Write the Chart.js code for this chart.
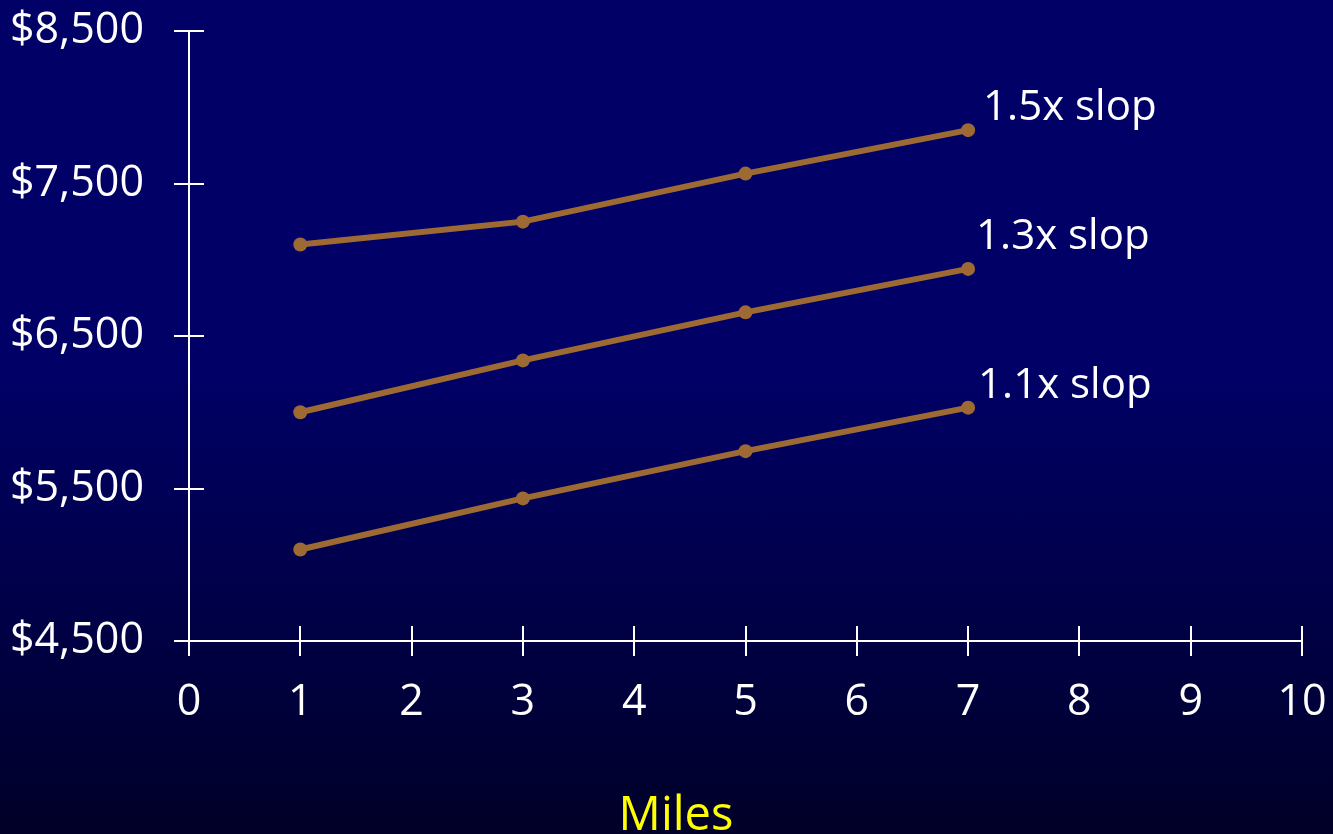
<!DOCTYPE html>
<html>
<head>
<meta charset="utf-8">
<script src="https://cdn.jsdelivr.net/npm/chart.js@4/dist/chart.umd.min.js"></script>
<style>
html, body { margin: 0; padding: 0; width: 1333px; height: 834px; overflow: hidden; }
body { background: linear-gradient(to bottom, #000066 0%, #000066 45%, #00003a 85%, #000028 100%); }
#wrap { position: relative; width: 1333px; height: 834px; }
</style>
</head>
<body>
<div id="wrap"><canvas id="c" width="1333" height="834"></canvas></div>
<script>
const seriesNames = ["1.5x slop", "1.3x slop", "1.1x slop"];
const miles = [1, 3, 5, 7];
const slope15 = [7100, 7250, 7565, 7850];
const slope13 = [6000, 6340, 6655, 6940];
const slope11 = [5100, 5435, 5745, 6030];
const yTicks = [4500, 5500, 6500, 7500, 8500];
const xMin = 0, xMax = 10;
const xTitle = "Miles";

const FONT = "'Open Sans', 'DejaVu Sans', sans-serif";
const LINE = "#9e6a34";

function pts(vals) { return miles.map((m, i) => ({ x: m, y: vals[i] })); }

const crossTicks = {
  id: 'crossTicks',
  afterDraw(chart) {
    const ctx = chart.ctx;
    const xs = chart.scales.x, ys = chart.scales.y;
    ctx.save();
    ctx.strokeStyle = '#ffffff';
    ctx.lineWidth = 2;
    const x0 = xs.getPixelForValue(xMin);
    const y0 = ys.getPixelForValue(yTicks[0]);
    const half = 15;
    ctx.beginPath();
    ys.ticks.forEach(t => {
      const y = Math.round(ys.getPixelForValue(t.value));
      ctx.moveTo(x0 - half, y); ctx.lineTo(x0 + half, y);
    });
    xs.ticks.forEach(t => {
      const x = Math.round(xs.getPixelForValue(t.value));
      ctx.moveTo(x, y0 - half); ctx.lineTo(x, y0 + half);
    });
    ctx.stroke();
    ctx.restore();
  }
};

const endLabels = {
  id: 'endLabels',
  afterDatasetsDraw(chart, args, opts) {
    const ctx = chart.ctx;
    ctx.save();
    ctx.fillStyle = '#ffffff';
    ctx.font = "42px " + FONT;
    ctx.textAlign = 'left';
    ctx.textBaseline = 'middle';
    chart.data.datasets.forEach((ds, i) => {
      const meta = chart.getDatasetMeta(i);
      const last = meta.data[meta.data.length - 1];
      const off = opts.offsets[i];
      ctx.fillText(ds.label, last.x + off[0], last.y + off[1]);
    });
    ctx.restore();
  }
};

const bottomTitle = {
  id: 'bottomTitle',
  afterDraw(chart, args, opts) {
    const ctx = chart.ctx;
    ctx.save();
    ctx.fillStyle = '#ffff00';
    ctx.font = "47px " + FONT;
    ctx.textAlign = 'center';
    ctx.textBaseline = 'alphabetic';
    ctx.fillText(xTitle, opts.x, opts.y);
    ctx.restore();
  }
};

const datasets = [slope15, slope13, slope11].map((v, i) => ({
  label: seriesNames[i],
  data: pts(v),
  borderColor: LINE,
  backgroundColor: LINE,
  borderWidth: 6,
  pointRadius: 7,
  pointHoverRadius: 7,
  pointBorderWidth: 0,
  tension: 0,
  clip: false
}));

new Chart(document.getElementById('c'), {
  type: 'line',
  data: { datasets },
  plugins: [crossTicks, endLabels, bottomTitle],
  options: {
    responsive: false,
    animation: false,
    events: [],
    layout: { padding: { top: 31, right: 31, left: 0, bottom: 0 } },
    plugins: {
      legend: { display: false },
      tooltip: { enabled: false },
      endLabels: { offsets: [[15, -22], [8, -32], [10, -22]] },
      bottomTitle: { x: 676, y: 830 }
    },
    scales: {
      x: {
        type: 'linear',
        min: xMin, max: xMax,
        ticks: { stepSize: 1, color: '#ffffff', font: { family: FONT, size: 43 }, padding: 36, maxRotation: 0, autoSkip: false },
        grid: { display: false, drawTicks: false },
        border: { display: true, color: '#ffffff', width: 2 },
        afterFit(s) { s.height = 193; s.paddingLeft = 0; s.paddingRight = 0; }
      },
      y: {
        type: 'linear',
        min: yTicks[0], max: yTicks[yTicks.length - 1],
        afterBuildTicks(s) { s.ticks = yTicks.map(v => ({ value: v })); },
        ticks: {
          color: '#ffffff', font: { family: FONT, size: 43 }, padding: 45, autoSkip: false,
          callback: v => '$' + Number(v).toLocaleString('en-US')
        },
        grid: { display: false, drawTicks: false },
        border: { display: true, color: '#ffffff', width: 2 },
        afterFit(s) { s.width = 189; s.paddingTop = 0; s.paddingBottom = 0; }
      }
    }
  }
});
</script>
</body>
</html>
